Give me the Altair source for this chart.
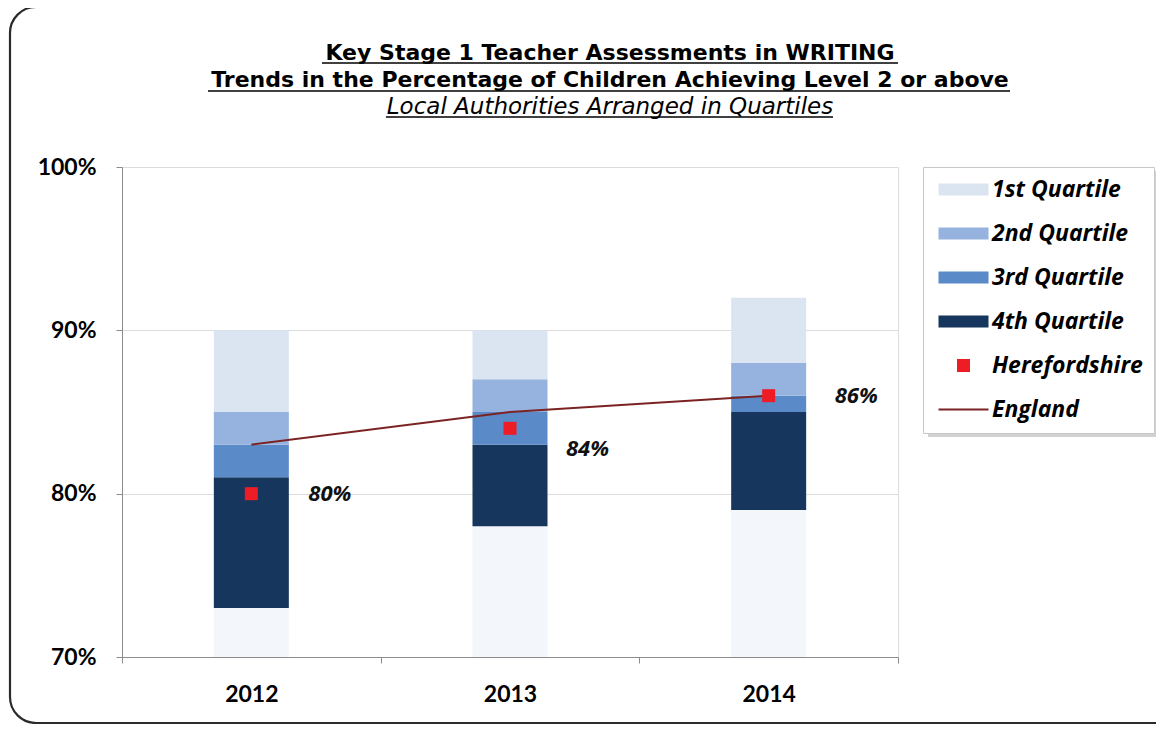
import altair as alt
import pandas as pd

# ---------------- data ----------------
years = ["2012", "2013", "2014"]
base_low = [70, 70, 70]
q4_low = [73, 78, 79]
q3_low = [81, 83, 85]
q2_low = [83, 85, 86]
q1_low = [85, 87, 88]
q1_high = [90, 90, 92]
herefordshire = [80, 84, 86]
england = [83, 85, 86]
hfd_labels = ["80%", "84%", "86%"]

series_names = ["1st Quartile", "2nd Quartile", "3rd Quartile", "4th Quartile",
                "Herefordshire", "England"]
series_colors = ["#dbe5f1", "#95b3de", "#5b8ac8", "#17365d", "#ee1c25", "#7b2323"]
base_color = "#f3f6fa"

title_lines = [
    "Key Stage 1 Teacher Assessments in WRITING",
    "Trends in the Percentage of Children Achieving Level 2 or above",
    "Local Authorities Arranged in Quartiles",
]
y_ticks = [70, 80, 90, 100]

# ---------------- tables ----------------
seg_rows = []
for i, yr in enumerate(years):
    seg_rows.append({"year": yr, "series": "4th Quartile", "low": q4_low[i], "high": q3_low[i]})
    seg_rows.append({"year": yr, "series": "3rd Quartile", "low": q3_low[i], "high": q2_low[i]})
    seg_rows.append({"year": yr, "series": "2nd Quartile", "low": q2_low[i], "high": q1_low[i]})
    seg_rows.append({"year": yr, "series": "1st Quartile", "low": q1_low[i], "high": q1_high[i]})
segs = pd.DataFrame(seg_rows)
base = pd.DataFrame({"year": years, "low": base_low, "high": q4_low})
eng = pd.DataFrame({"year": years, "value": england, "series": ["England"] * 3})
hfd = pd.DataFrame({"year": years, "value": herefordshire, "label": hfd_labels,
                    "series": ["Herefordshire"] * 3})

# legend symbol shapes (custom paths, scaled by sqrt(size)/2)
rect_path = "M-2.5,-0.6H2.5V0.6H-2.5Z"
square_path = "M-0.65,-0.65H0.65V0.65H-0.65Z"
line_path = "M-2.5,-0.1H2.5V0.1H-2.5Z"
shape_range = [rect_path, rect_path, rect_path, rect_path, square_path, line_path]

LABEL_FONT = "Lato"
ITALIC_FONT = "Open Sans"

legend = alt.Legend(
    title=None, orient="none", legendX=801, legendY=0,
    padding=11, fillColor="white", strokeColor="#c8c8c8",
    symbolSize=400, symbolOffset=18, labelOffset=17, symbolStrokeWidth=0,
    symbolOpacity=1,
    labelFont=ITALIC_FONT, labelFontSize=23, labelFontWeight="bold",
    labelFontStyle="italic", labelColor="black", labelLimit=400,
    rowPadding=20,
)

x_enc = alt.X(
    "year:N", title=None,
    scale=alt.Scale(domain=years, paddingInner=0, paddingOuter=0),
    axis=alt.Axis(labelAngle=0, labelFont=LABEL_FONT, labelFontSize=23,
                  labelFontWeight="bold", labelColor="black", labelPadding=20,
                  tickBand="extent", tickSize=6, tickColor="#8c8c8c",
                  domainColor="#8c8c8c", grid=False),
)
y_scale = alt.Scale(domain=[70, 100], nice=False, zero=False)
y_axis = alt.Axis(values=y_ticks, labelExpr="datum.value + '%'", labelFont=LABEL_FONT,
                  labelFontSize=23, labelFontWeight="bold", labelColor="black",
                  labelPadding=20, tickSize=6, tickColor="#8c8c8c",
                  domainColor="#8c8c8c", gridColor="#dcdcdc", grid=True)

color_enc = alt.Color("series:N", scale=alt.Scale(domain=series_names, range=series_colors),
                      legend=legend)
shape_enc = alt.Shape("series:N", scale=alt.Scale(domain=series_names, range=shape_range),
                      legend=legend)

one = pd.DataFrame({"k": [0]})

frame = alt.Chart(one).mark_rect(
    fill="transparent", stroke="#2b2b2b", strokeWidth=2.2, cornerRadius=26
).encode(x=alt.value(-112), x2=alt.value(1060), y=alt.value(-160), y2=alt.value(556))

legend_shadow = alt.Chart(one).mark_rect(fill="#9a9a9a", opacity=0.45).encode(
    x=alt.value(806), x2=alt.value(1036), y=alt.value(4), y2=alt.value(270))

base_bars = alt.Chart(base).mark_bar(size=75, color=base_color).encode(
    x=x_enc, y=alt.Y("low:Q", scale=y_scale, axis=y_axis, title=None), y2="high:Q")

q_bars = alt.Chart(segs).mark_bar(size=75).encode(
    x=x_enc, y=alt.Y("low:Q", scale=y_scale, axis=y_axis, title=None), y2="high:Q",
    color=color_enc)

eng_line = alt.Chart(eng).mark_line(strokeWidth=2).encode(
    x=x_enc, y=alt.Y("value:Q", scale=y_scale), color=color_enc)

hfd_pts = alt.Chart(hfd).mark_point(filled=True, size=400, opacity=1).encode(
    x=x_enc, y=alt.Y("value:Q", scale=y_scale), color=color_enc, shape=shape_enc)

lbl_kw = dict(font=ITALIC_FONT, fontSize=22, fontWeight="bold", fontStyle="italic",
              align="left", baseline="middle", color="#111111")
label_layers = []
for yr, ddx, ddy in [("2012", 57, 0), ("2013", 56, 21), ("2014", 66, 0)]:
    label_layers.append(
        alt.Chart(hfd).transform_filter(f"datum.year == '{yr}'")
        .mark_text(dx=ddx, dy=ddy, **lbl_kw)
        .encode(x=x_enc, y=alt.Y("value:Q", scale=y_scale), text="label:N")
    )

title_layers = []
title_specs = [
    (title_lines[0], -107, "bold", "normal", 22),
    (title_lines[1], -80, "bold", "normal", 22),
    (title_lines[2], -53, "normal", "italic", 23),
]
for txt, yy, fw, fs, fz in title_specs:
    title_layers.append(
        alt.Chart(pd.DataFrame({"t": [txt]})).mark_text(
            font="DejaVu Sans", fontSize=fz, fontWeight=fw, fontStyle=fs,
            align="center", baseline="alphabetic", color="black"
        ).encode(x=alt.value(488), y=alt.value(yy), text="t:N")
    )
underlines = []
for x1, x2, yy in [(200, 776, -104), (86, 888, -76), (264, 711, -50)]:
    underlines.append(
        alt.Chart(one).mark_rule(color="black", strokeWidth=1.6).encode(
            x=alt.value(x1), x2=alt.value(x2), y=alt.value(yy))
    )

chart = alt.layer(
    frame, legend_shadow, base_bars, q_bars, eng_line, hfd_pts, *label_layers,
    *title_layers, *underlines
).properties(
    width=776, height=490,
    autosize=alt.AutoSizeParams(type="none"),
    padding={"left": 114, "top": 159, "right": 258, "bottom": 67},
).configure_view(stroke=None).configure(background="white")

chart.save("out.html", embed_options={"renderer": "svg", "actions": False})
